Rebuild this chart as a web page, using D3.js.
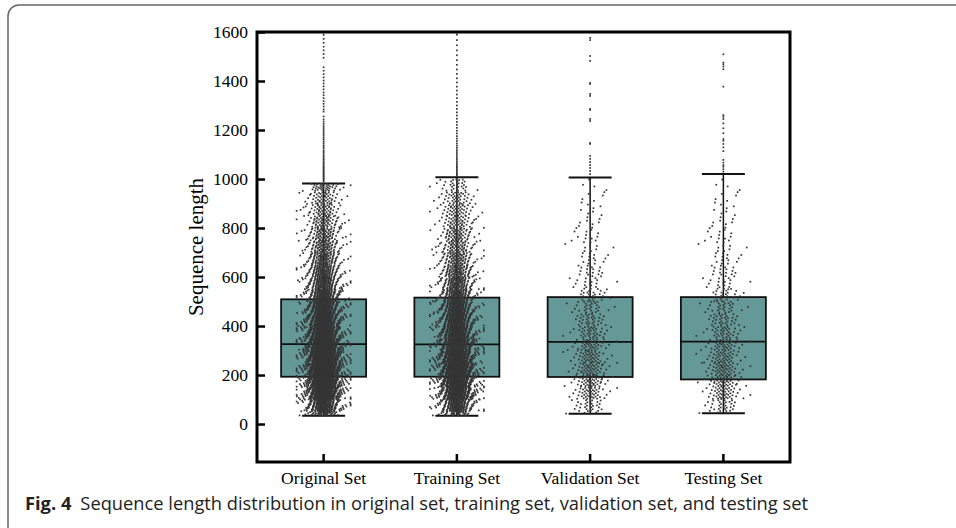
<!DOCTYPE html>
<html>
<head>
<meta charset="utf-8">
<script src="https://cdn.jsdelivr.net/npm/d3@7"></script>
<style>
  body { margin: 0; background: #fff; }
</style>
</head>
<body>
<div id="canvas"></div>
<script>
// chart data
var sets = ["Original Set", "Training Set", "Validation Set", "Testing Set"];
var lowWhisker = [34, 34, 42, 44];
var q1 = [193, 193, 192, 182];
var median = [326, 325, 335, 336];
var q3 = [509, 516, 518, 518];
var highWhisker = [982, 1007, 1006, 1020];
var yTicks = [0, 200, 400, 600, 800, 1000, 1200, 1400, 1600];

// approximate count of dots in each 50-wide bin (0..1000), estimated from the cloud density
var binEdges = [0, 50, 100, 150, 200, 250, 300, 350, 400, 450, 500, 550, 600, 650, 700, 750, 800, 850, 900, 950, 1000];
var countsOriginal = [40, 250, 420, 480, 470, 440, 400, 350, 300, 260, 220, 180, 150, 125, 105, 90, 75, 65, 55, 40];
var countsTraining = [32, 200, 336, 384, 376, 352, 320, 280, 240, 208, 176, 144, 120, 100, 84, 72, 60, 52, 44, 32];
var countsValidation = [3, 28, 48, 55, 52, 48, 44, 40, 34, 29, 25, 20, 17, 14, 12, 10, 8, 7, 6, 4];
var countsTesting = [2, 30, 50, 56, 50, 46, 44, 40, 34, 30, 24, 20, 17, 14, 12, 10, 8, 7, 6, 4];

// outliers above the upper whisker
var outOriginal = [990, 995, 1000, 1004, 1009, 1013, 1018, 1022, 1027, 1031, 1036, 1041, 1046, 1050, 1055, 1061, 1066, 1072, 1078, 1083, 1090, 1096, 1103, 1110, 1116, 1124, 1131, 1138, 1146, 1153, 1161, 1168, 1176, 1184, 1192, 1200, 1208, 1216, 1225, 1234, 1243, 1255, 1275, 1284, 1296, 1307, 1318, 1330, 1342, 1353, 1366, 1378, 1390, 1402, 1415, 1428, 1442, 1456, 1495, 1510, 1525, 1540, 1556, 1572, 1588, 1598];
var outTraining = [1012, 1017, 1022, 1028, 1034, 1040, 1046, 1052, 1058, 1065, 1072, 1079, 1086, 1094, 1102, 1110, 1118, 1127, 1136, 1145, 1155, 1165, 1175, 1186, 1197, 1209, 1221, 1233, 1246, 1259, 1272, 1286, 1300, 1315, 1330, 1345, 1361, 1377, 1394, 1411, 1429, 1447, 1466, 1485, 1505, 1525, 1546, 1567, 1589, 1598];
var outValidation = [1020, 1033, 1045, 1057, 1069, 1082, 1094, 1143, 1147, 1237, 1245, 1282, 1286, 1339, 1347, 1388, 1392, 1482, 1502, 1567, 1576];
var outTesting = [1030, 1040, 1050, 1057, 1067, 1078, 1114, 1129, 1143, 1156, 1163, 1187, 1207, 1227, 1245, 1254, 1261, 1377, 1448, 1459, 1468, 1475, 1509];

var counts = [countsOriginal, countsTraining, countsValidation, countsTesting];
var outliers = [outOriginal, outTraining, outValidation, outTesting];

var width = 956, height = 528;
var plotLeft = 257, plotRight = 790, plotTop = 32, plotBottom = 462;

var svg = d3.select("#canvas").append("svg")
  .attr("width", width)
  .attr("height", height);

// rounded panel border
svg.append("rect")
  .attr("x", 8).attr("y", 5)
  .attr("width", 1100).attr("height", 560)
  .attr("rx", 11)
  .attr("fill", "none")
  .attr("stroke", "#666")
  .attr("stroke-width", 1.5);

var x = d3.scaleBand().domain(sets).range([plotLeft, plotRight]).padding(0);
var y = d3.scaleLinear().domain([-155, 1600]).range([plotBottom, plotTop]);

var boxW = 85, capW = 43;
var g = svg.selectAll("g.set")
  .data(sets)
  .enter()
  .append("g")
  .attr("class", "set");

// boxes
g.append("rect")
  .attr("x", d => x(d) + x.bandwidth() / 2 - boxW / 2)
  .attr("y", (d, i) => y(q3[i]))
  .attr("width", boxW)
  .attr("height", (d, i) => y(q1[i]) - y(q3[i]))
  .attr("fill", "#659997");

// jittered dots laid out inside each bin (horizontal spread peaks at the centre)
var dots = [];
sets.forEach((s, i) => {
  var k = 0;
  counts[i].forEach((n, b) => {
    var lo = Math.max(binEdges[b], lowWhisker[i]);
    var hi = Math.min(binEdges[b + 1], highWhisker[i]);
    for (var j = 0; j < n; j++) {
      k++;
      var ux = (0.5 + k * 0.7548776662) % 1;
      var uy = (0.5 + j * 0.5698402910 + b * 0.31) % 1;
      ux = Math.min(Math.max(ux, 0.004), 0.996);
      var dx = 5.2 * Math.log(ux / (1 - ux));
      dx = Math.max(-27, Math.min(27, dx));
      dots.push({ set: s, v: lo + (hi - lo) * uy, dx: dx });
    }
  });
  outliers[i].forEach(v => dots.push({ set: s, v: v, dx: 0 }));
});

svg.append("g")
  .selectAll("rect")
  .data(dots)
  .enter()
  .append("rect")
  .attr("x", d => x(d.set) + x.bandwidth() / 2 + d.dx - 0.85)
  .attr("y", d => y(d.v) - 0.85)
  .attr("width", 1.7)
  .attr("height", 1.7)
  .attr("fill", "#353535");

// whiskers
g.append("line")
  .attr("x1", d => x(d) + x.bandwidth() / 2)
  .attr("x2", d => x(d) + x.bandwidth() / 2)
  .attr("y1", (d, i) => y(q3[i]))
  .attr("y2", (d, i) => y(highWhisker[i]))
  .attr("stroke", "#111").attr("stroke-width", 1.5);
g.append("line")
  .attr("x1", d => x(d) + x.bandwidth() / 2)
  .attr("x2", d => x(d) + x.bandwidth() / 2)
  .attr("y1", (d, i) => y(q1[i]))
  .attr("y2", (d, i) => y(lowWhisker[i]))
  .attr("stroke", "#111").attr("stroke-width", 1.5);
[highWhisker, lowWhisker].forEach(arr => {
  g.append("line")
    .attr("x1", d => x(d) + x.bandwidth() / 2 - capW / 2)
    .attr("x2", d => x(d) + x.bandwidth() / 2 + capW / 2)
    .attr("y1", (d, i) => y(arr[i]))
    .attr("y2", (d, i) => y(arr[i]))
    .attr("stroke", "#111").attr("stroke-width", 2);
});

// box outline and median
g.append("rect")
  .attr("x", d => x(d) + x.bandwidth() / 2 - boxW / 2)
  .attr("y", (d, i) => y(q3[i]))
  .attr("width", boxW)
  .attr("height", (d, i) => y(q1[i]) - y(q3[i]))
  .attr("fill", "none")
  .attr("stroke", "#111")
  .attr("stroke-width", 1.8);
g.append("line")
  .attr("x1", d => x(d) + x.bandwidth() / 2 - boxW / 2)
  .attr("x2", d => x(d) + x.bandwidth() / 2 + boxW / 2)
  .attr("y1", (d, i) => y(median[i]))
  .attr("y2", (d, i) => y(median[i]))
  .attr("stroke", "#111").attr("stroke-width", 1.8);

// axes
var yAxis = svg.append("g")
  .attr("transform", "translate(" + plotLeft + ",0)")
  .call(d3.axisLeft(y).tickValues(yTicks).tickFormat(d3.format("d")).tickSizeInner(-8).tickSizeOuter(0).tickPadding(9));
var xAxis = svg.append("g")
  .attr("transform", "translate(0," + plotBottom + ")")
  .call(d3.axisBottom(x).tickSizeInner(-8).tickSizeOuter(0).tickPadding(10));
[yAxis, xAxis].forEach(a => {
  a.select(".domain").remove();
  a.selectAll(".tick line").attr("stroke", "#000").attr("stroke-width", 2.5);
  a.selectAll(".tick text")
    .attr("fill", "#000")
    .style("font-family", "'Liberation Serif', 'Times New Roman', serif")
    .style("font-size", "17.5px");
});

// frame
svg.append("rect")
  .attr("x", plotLeft).attr("y", plotTop)
  .attr("width", plotRight - plotLeft).attr("height", plotBottom - plotTop)
  .attr("fill", "none")
  .attr("stroke", "#000")
  .attr("stroke-width", 3);

svg.append("text")
  .attr("transform", "translate(203,247) rotate(-90)")
  .attr("text-anchor", "middle")
  .style("font-family", "'Liberation Serif', 'Times New Roman', serif")
  .style("font-size", "21px")
  .text("Sequence length");

// caption
var cap = svg.append("text")
  .attr("x", 25).attr("y", 510)
  .style("font-family", "'Open Sans', 'Noto Sans', sans-serif")
  .style("font-size", "18.3px")
  .attr("fill", "#222");
cap.append("tspan").style("font-weight", "bold").text("Fig. 4");
cap.append("tspan").attr("dx", 9).text("Sequence length distribution in original set, training set, validation set, and testing set");
</script>
</body>
</html>
